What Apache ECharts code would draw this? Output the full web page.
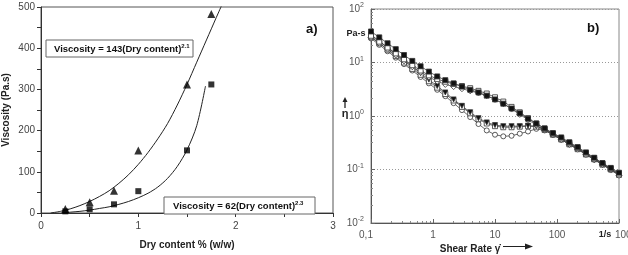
<!DOCTYPE html>
<html>
<head>
<meta charset="utf-8">
<script src="https://cdn.jsdelivr.net/npm/echarts@6/dist/echarts.min.js"></script>
<style>html,body{margin:0;padding:0;background:#fff}#c{width:628px;height:255px}</style>
</head>
<body>
<div id="c"></div>
<script>
// ---- Panel a) data ----
var dryContent = [0.25, 0.5, 0.75, 1.0, 1.5, 1.75];
var viscTriangles = [10, 26, 54, 152, 312, 483];
var viscSquares = [4, 9, 21, 53, 152, 312];
var fit1X = [0.1, 0.2, 0.3, 0.4, 0.5, 0.6, 0.7, 0.8, 0.9, 1.0, 1.1, 1.2, 1.3, 1.4, 1.5, 1.6, 1.7, 1.8, 1.86];
var fit1Y = [0, 4, 10, 18, 28, 40, 54, 72, 93, 118, 147, 180, 217, 262, 312, 366, 420, 474, 506];
var fit2X = [0.22, 0.3, 0.4, 0.5, 0.6, 0.7, 0.8, 0.9, 1.0, 1.1, 1.2, 1.3, 1.4, 1.5, 1.6, 1.69];
var fit2Y = [0, 2, 4, 7, 11, 15, 21, 28, 37, 48, 63, 84, 113, 153, 212, 308];
var xTicksA = [0, 1, 2, 3];

// ---- Panel b) data ----
var shearRate = [0.1, 0.136, 0.185, 0.251, 0.341, 0.464, 0.631, 0.858, 1.17, 1.58, 2.15, 2.93, 3.98, 5.41, 7.36, 10, 13.6, 18.5, 25.1, 34.1, 46.4, 63.1, 85.8, 117, 158, 215, 293, 398, 541, 736, 1000];
// viscosity read in decades (log10 of Pa·s)
var logEtaFilledSq = [1.58,1.47,1.36,1.25,1.14,1.03,0.93,0.83,0.74,0.67,0.61,0.55,0.49,0.44,0.38,0.31,0.23,0.14,0.05,-0.05,-0.14,-0.23,-0.32,-0.40,-0.49,-0.58,-0.68,-0.78,-0.88,-0.97,-1.06];
var logEtaOpenSq = [1.50,1.39,1.28,1.17,1.06,0.95,0.85,0.76,0.69,0.64,0.60,0.56,0.52,0.47,0.42,0.35,0.27,0.17,0.07,-0.04,-0.14,-0.24,-0.33,-0.42,-0.51,-0.60,-0.70,-0.80,-0.89,-0.99,-1.09];
var logEtaDiamond = [1.47,1.36,1.25,1.14,1.03,0.92,0.82,0.73,0.65,0.59,0.55,0.51,0.47,0.43,0.38,0.31,0.23,0.13,0.03,-0.07,-0.17,-0.26,-0.35,-0.44,-0.53,-0.62,-0.72,-0.82,-0.91,-1.01,-1.11];
var logEtaTriangle = [1.52,1.40,1.28,1.16,1.04,0.92,0.80,0.68,0.56,0.44,0.31,0.19,0.07,-0.04,-0.12,-0.17,-0.19,-0.19,-0.19,-0.18,-0.19,-0.25,-0.33,-0.42,-0.51,-0.60,-0.70,-0.79,-0.89,-0.98,-1.08];
var logEtaOpenSq2 = [1.48,1.36,1.24,1.12,1.00,0.88,0.77,0.65,0.53,0.41,0.29,0.17,0.05,-0.06,-0.14,-0.19,-0.21,-0.21,-0.20,-0.19,-0.20,-0.26,-0.35,-0.44,-0.53,-0.62,-0.72,-0.81,-0.91,-1.00,-1.10];
var logEtaCircle = [1.45,1.33,1.21,1.09,0.97,0.85,0.73,0.61,0.49,0.37,0.24,0.11,-0.02,-0.15,-0.27,-0.35,-0.38,-0.37,-0.33,-0.29,-0.24,-0.27,-0.35,-0.44,-0.53,-0.62,-0.71,-0.81,-0.90,-1.00,-1.10];
var xTickLabelsB = ['0,1', '1', '10', '100', '1000'];

var FONT = '"Liberation Sans", Arial, sans-serif';

function pairs(xs, ys) { return xs.map(function (x, i) { return [x, ys[i]]; }); }
function logPairs(xs, ls) { return xs.map(function (x, i) { return [x, Math.pow(10, ls[i])]; }); }

function rheoSeries(logs, symbol, filled, rotate, size) {
  return {
    type: 'line', xAxisIndex: 1, yAxisIndex: 1,
    data: logPairs(shearRate, logs),
    symbol: symbol, symbolSize: size || 5, symbolRotate: rotate || 0, showAllSymbol: true,
    lineStyle: { color: '#444', width: 0.8 },
    itemStyle: { color: filled ? '#111' : '#fff', borderColor: '#333', borderWidth: 0.8 },
    emphasis: { disabled: true }, animation: false, z: 3
  };
}

var chart = echarts.init(document.getElementById('c'));
chart.setOption({
  animation: false,
  grid: [
    { left: 38, top: 7, width: 295, height: 218, show: true, borderColor: '#555', borderWidth: 1, backgroundColor: 'transparent' },
    { left: 371, top: 9, width: 248, height: 214, show: true, borderColor: '#888', borderWidth: 1, backgroundColor: 'transparent' }
  ],
  xAxis: [
    {
      gridIndex: 0, type: 'value', min: 0, max: 3, interval: 0.5,
      name: 'Dry content % (w/w)', nameLocation: 'middle', nameGap: 27,
      nameTextStyle: { fontFamily: FONT, fontWeight: 'bold', fontSize: 10, color: '#222' },
      axisLine: { lineStyle: { color: '#333', width: 1 } },
      axisTick: { inside: false, length: 4, lineStyle: { color: '#333' } },
      axisLabel: { margin: 8, fontFamily: FONT, fontSize: 10, color: '#444',
        formatter: function (v) { return xTicksA.indexOf(v) >= 0 ? String(v) : ''; } },
      splitLine: { show: false }
    },
    {
      gridIndex: 1, type: 'log', logBase: 10, min: 0.1, max: 1000,
      axisLine: { lineStyle: { color: '#555', width: 1 } },
      axisTick: { inside: true, length: 4, lineStyle: { color: '#666' } },
      minorTick: { show: true, splitNumber: 8, length: 2, lineStyle: { color: '#888' } },
      axisLabel: { margin: 7, fontFamily: FONT, fontSize: 10, color: '#555', hideOverlap: false,
        formatter: function (v) {
          var e = Math.round(Math.log10(v)) + 1;
          if (e === 0) return '{l|' + xTickLabelsB[0] + '}';
          if (e >= 4) return '';
          return xTickLabelsB[e] || '';
        },
        rich: { l: { fontFamily: FONT, fontSize: 10, color: '#555', padding: [0, 10, 0, 0] } } },
      splitLine: { show: false }
    }
  ],
  yAxis: [
    {
      gridIndex: 0, type: 'value', min: 0, max: 500, interval: 50,
      name: 'Viscosity (Pa.s)', nameLocation: 'middle', nameGap: 30, nameRotate: 90,
      nameTextStyle: { fontFamily: FONT, fontWeight: 'bold', fontSize: 10, color: '#222' },
      axisLine: { show: true, lineStyle: { color: '#333', width: 1 } },
      axisTick: { show: true, inside: false, length: 4, lineStyle: { color: '#333' } },
      axisLabel: { margin: 6, fontFamily: FONT, fontSize: 10, color: '#444',
        formatter: function (v) { return v % 100 === 0 ? String(v) : ''; } },
      splitLine: { show: false }
    },
    {
      gridIndex: 1, type: 'log', logBase: 10, min: 0.01, max: 100,
      axisLine: { show: true, lineStyle: { color: '#555', width: 1 } },
      axisTick: { show: true, inside: true, length: 4, lineStyle: { color: '#666' } },
      minorTick: { show: true, splitNumber: 8, length: 2, lineStyle: { color: '#888' } },
      axisLabel: { margin: 7, fontFamily: FONT, color: '#555',
        formatter: function (v) { return '{b|10}{s|' + Math.round(Math.log10(v)) + '}'; },
        rich: { b: { fontFamily: FONT, fontSize: 10, color: '#555', lineHeight: 14 },
                s: { fontFamily: FONT, fontSize: 7, color: '#555', verticalAlign: 'top', lineHeight: 8 } } },
      splitLine: { show: true, lineStyle: { color: '#999', type: [1, 2], width: 1 } }
    }
  ],
  series: [
    { type: 'line', xAxisIndex: 0, yAxisIndex: 0, data: pairs(fit1X, fit1Y), smooth: 0.3, symbol: 'none',
      lineStyle: { color: '#222', width: 1 }, emphasis: { disabled: true }, z: 2 },
    { type: 'line', xAxisIndex: 0, yAxisIndex: 0, data: pairs(fit2X, fit2Y), smooth: 0.3, symbol: 'none',
      lineStyle: { color: '#222', width: 1 }, emphasis: { disabled: true }, z: 2 },
    { type: 'scatter', xAxisIndex: 0, yAxisIndex: 0, data: pairs(dryContent, viscTriangles), symbol: 'triangle', symbolSize: 8,
      itemStyle: { color: '#000' }, emphasis: { disabled: true }, z: 3 },
    { type: 'scatter', xAxisIndex: 0, yAxisIndex: 0, data: pairs(dryContent, viscSquares), symbol: 'rect', symbolSize: 6,
      itemStyle: { color: '#000' }, emphasis: { disabled: true }, z: 3 },
    rheoSeries(logEtaCircle, 'circle', false, 0, 5),
    rheoSeries(logEtaOpenSq2, 'rect', false, 0, 5),
    rheoSeries(logEtaTriangle, 'triangle', true, 180, 5),
    rheoSeries(logEtaDiamond, 'diamond', false, 0, 6),
    rheoSeries(logEtaOpenSq, 'rect', false, 0, 5),
    rheoSeries(logEtaFilledSq, 'rect', true, 0, 5)
  ],
  graphic: [
    { type: 'rect', shape: { x: 46, y: 40, width: 147, height: 17 }, style: { fill: '#fff', stroke: '#666', lineWidth: 1 }, z: 10 },
    { type: 'text', x: 54, y: 49, z: 11, style: { text: '{b|Viscosity = 143(Dry content)}{s|2.1}', verticalAlign: 'middle',
      rich: { b: { fontFamily: FONT, fontWeight: 'bold', fontSize: 9.5, fill: '#111', lineHeight: 12 },
              s: { fontFamily: FONT, fontWeight: 'bold', fontSize: 6, fill: '#111', verticalAlign: 'top', lineHeight: 7 } } } },
    { type: 'rect', shape: { x: 164, y: 197, width: 151, height: 17 }, style: { fill: '#fff', stroke: '#666', lineWidth: 1 }, z: 10 },
    { type: 'text', x: 173, y: 206, z: 11, style: { text: '{b|Viscosity = 62(Dry content)}{s|2.3}', verticalAlign: 'middle',
      rich: { b: { fontFamily: FONT, fontWeight: 'bold', fontSize: 9.5, fill: '#111', lineHeight: 12 },
              s: { fontFamily: FONT, fontWeight: 'bold', fontSize: 6, fill: '#111', verticalAlign: 'top', lineHeight: 7 } } } },
    { type: 'text', x: 306, y: 29, z: 11, style: { text: 'a)', fontFamily: FONT, fontWeight: 'bold', fontSize: 13, fill: '#111', verticalAlign: 'middle' } },
    { type: 'text', x: 587, y: 28, z: 11, style: { text: 'b)', fontFamily: FONT, fontWeight: 'bold', fontSize: 13, fill: '#111', verticalAlign: 'middle' } },
    { type: 'text', x: 356, y: 34, z: 11, style: { text: 'Pa-s', fontFamily: FONT, fontWeight: 'bold', fontSize: 9, fill: '#222', align: 'center', verticalAlign: 'middle' } },
    { type: 'line', shape: { x1: 345, y1: 99, x2: 345, y2: 108 }, style: { stroke: '#222', lineWidth: 1.3 }, z: 11 },
    { type: 'polygon', shape: { points: [[345, 97], [342.5, 102], [347.5, 102]] }, style: { fill: '#222' }, z: 11 },
    { type: 'text', x: 345, y: 114, z: 11, style: { text: 'η', fontFamily: FONT, fontWeight: 'bold', fontSize: 11, fill: '#222', align: 'center', verticalAlign: 'middle' } },
    { type: 'text', x: 605, y: 235, z: 11, style: { text: '1/s', fontFamily: FONT, fontWeight: 'bold', fontSize: 9, fill: '#222', align: 'center', verticalAlign: 'middle' } },
    { type: 'text', x: 615, y: 235, z: 11, style: { text: xTickLabelsB[4], fontFamily: FONT, fontSize: 10, fill: '#555', align: 'left', verticalAlign: 'middle' } },
    { type: 'text', x: 470, y: 249, z: 11, style: { text: 'Shear Rate γ̇', fontFamily: FONT, fontWeight: 'bold', fontSize: 10, fill: '#222', align: 'center', verticalAlign: 'middle' } },
    { type: 'line', shape: { x1: 503, y1: 246.5, x2: 527, y2: 246.5 }, style: { stroke: '#222', lineWidth: 1 }, z: 11 },
    { type: 'polygon', shape: { points: [[533, 246.5], [525, 243.5], [525, 249.5]] }, style: { fill: '#222' }, z: 11 }
  ]
});
</script>
</body>
</html>
